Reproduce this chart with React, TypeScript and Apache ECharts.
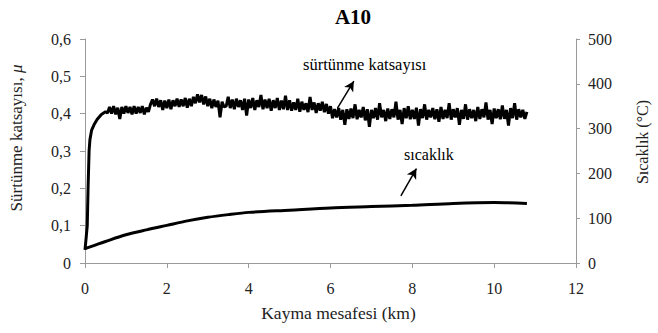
import React, { useEffect, useRef } from "react";
import * as echarts from "echarts";

const titleText = "A10";
const xTicks = { min: 0, max: 12, interval: 2 };
const leftTicks = { min: 0, max: 0.6, interval: 0.1 };
const rightTicks = { min: 0, max: 500, interval: 100 };

// friction coefficient: initial ramp
const rampDistance = [0, 0.03, 0.055, 0.075, 0.1, 0.12, 0.16, 0.22, 0.3, 0.4, 0.5];
const rampFriction = [0.035, 0.07, 0.1, 0.2, 0.3, 0.33, 0.355, 0.37, 0.385, 0.398, 0.405];

// friction coefficient: sampled every 0.05 km from 0.55 km
const noisyStart = 0.55;
const noisyStep = 0.05;
const frictionNoisy = [
  // 0.55 - 1.55
  0.402, 0.418, 0.4, 0.42, 0.398, 0.416, 0.386, 0.418, 0.4, 0.42, 0.402, 0.418, 0.398, 0.42, 0.4, 0.418, 0.402, 0.42, 0.398, 0.416, 0.405,
  // 1.60 - 3.40
  0.425, 0.438, 0.42, 0.44, 0.418, 0.436, 0.41, 0.435, 0.415, 0.438, 0.412, 0.436, 0.42, 0.44, 0.418, 0.438, 0.42, 0.442, 0.416, 0.44,
  0.42, 0.445, 0.428, 0.452, 0.43, 0.45, 0.425, 0.446, 0.42, 0.44, 0.415, 0.438, 0.418, 0.435, 0.39, 0.432, 0.418,
  // 3.45 - 6.00
  0.42, 0.445, 0.415, 0.438, 0.412, 0.44, 0.418, 0.436, 0.41, 0.44, 0.395, 0.438,
  0.415, 0.442, 0.41, 0.436, 0.418, 0.45, 0.412, 0.438, 0.415, 0.44, 0.408, 0.436, 0.415, 0.442, 0.41, 0.435, 0.412, 0.448, 0.41, 0.436,
  0.408, 0.43, 0.41, 0.44, 0.405, 0.432, 0.41, 0.428, 0.404, 0.445, 0.41, 0.43, 0.402, 0.428, 0.408, 0.432, 0.404, 0.426, 0.4, 0.42,
  // 6.05 - 10.80
  0.388, 0.412, 0.39, 0.415, 0.384, 0.41, 0.37, 0.412, 0.386, 0.414,
  0.388, 0.425, 0.385, 0.41, 0.39, 0.418, 0.382, 0.412, 0.365, 0.41,
  0.388, 0.415, 0.384, 0.428, 0.39, 0.41, 0.38, 0.414, 0.386, 0.412,
  0.39, 0.432, 0.384, 0.41, 0.372, 0.415, 0.388, 0.42, 0.385, 0.41,
  0.386, 0.416, 0.368, 0.412, 0.388, 0.425, 0.384, 0.41, 0.39, 0.415,
  0.385, 0.412, 0.378, 0.418, 0.386, 0.41, 0.388, 0.428, 0.384, 0.412,
  0.39, 0.415, 0.37, 0.41, 0.386, 0.425, 0.384, 0.412, 0.388, 0.41,
  0.38, 0.418, 0.386, 0.412, 0.39, 0.43, 0.384, 0.41, 0.372, 0.414,
  0.388, 0.412, 0.385, 0.422, 0.386, 0.41, 0.368, 0.415, 0.388, 0.428,
  0.384, 0.412, 0.39, 0.41, 0.386, 0.405,
];

// temperature (°C)
const tempDistance = [0, 0.25, 0.5, 1, 1.5, 2, 2.5, 3, 3.5, 4, 5, 6, 7, 8, 9, 10, 10.8];
const temperature = [32, 40, 48, 63, 74, 84, 94, 102, 108, 113, 118, 123, 126, 129, 133, 135, 133];

const labels = {
  xName: "Kayma mesafesi (km)",
  leftName: "Sürtünme katsayısı, ",
  leftSymbol: "μ",
  rightName: "Sıcaklık (°C)",
  frictionNote: "sürtünme katsayısı",
  tempNote: "sıcaklık",
};

// arrow annotations in data coordinates
const frictionArrow = [[6.17, 0.415], [6.57, 0.487]];
const tempArrow = [[7.72, 0.18], [8.1, 0.253]];

const FONT = "Liberation Serif";
const TXT = "#222";
const AXIS = "#9a9a9a";

export default function App() {
  const ref = useRef<HTMLDivElement>(null);
  useEffect(() => {
    if (!ref.current) return;
    const chart = echarts.init(ref.current, undefined, { renderer: "svg" });
    const frictionData: number[][] = [];
    rampDistance.forEach((d, i) => frictionData.push([d, rampFriction[i]]));
    frictionNoisy.forEach((v, i) =>
      frictionData.push([+(noisyStart + i * noisyStep).toFixed(2), v])
    );
    const tempData = tempDistance.map((d, i) => [d, temperature[i]]);

    chart.setOption({
      animation: false,
      backgroundColor: "#fff",
      textStyle: { fontFamily: FONT },
      title: {
        text: titleText,
        left: 348,
        top: 1,
        textAlign: "center",
        textStyle: { fontFamily: FONT, fontSize: 21, fontWeight: "bold", color: "#000" },
      },
      grid: { left: 85, right: 71, top: 39, bottom: 70 },
      xAxis: {
        type: "value",
        min: xTicks.min,
        max: xTicks.max,
        interval: xTicks.interval,
        name: labels.xName,
        nameLocation: "middle",
        nameGap: 41,
        nameTextStyle: { fontFamily: FONT, fontSize: 17.5, color: TXT, padding: [0, 0, 0, 16] },
        axisLine: { show: true, lineStyle: { color: AXIS, width: 1 } },
        axisTick: { show: true, length: 5, lineStyle: { color: AXIS } },
        axisLabel: { fontFamily: FONT, fontSize: 16, color: TXT, margin: 17 },
        splitLine: { show: false },
      },
      yAxis: [
        {
          type: "value",
          min: leftTicks.min,
          max: leftTicks.max,
          interval: leftTicks.interval,
          position: "left",
          name: labels.leftName + "{i|" + labels.leftSymbol + "}",
          nameLocation: "middle",
          nameRotate: 90,
          nameGap: 60,
          nameTextStyle: {
            fontFamily: FONT,
            fontSize: 17,
            color: TXT,
            padding: [0, 0, 0, 26],
            rich: { i: { fontFamily: FONT, fontSize: 17, fontStyle: "italic", color: TXT } },
          },
          axisLine: { show: true, lineStyle: { color: AXIS, width: 1 } },
          axisTick: { show: true, length: 5, lineStyle: { color: AXIS } },
          axisLabel: {
            fontFamily: FONT,
            fontSize: 16,
            color: TXT,
            margin: 14,
            formatter: (v: number) => (v === 0 ? "0" : v.toFixed(1).replace(".", ",")),
          },
          splitLine: { show: false },
        },
        {
          type: "value",
          min: rightTicks.min,
          max: rightTicks.max,
          interval: rightTicks.interval,
          position: "right",
          name: labels.rightName,
          nameLocation: "middle",
          nameRotate: 90,
          nameGap: 58,
          nameTextStyle: { fontFamily: FONT, fontSize: 16, color: TXT, padding: [0, 0, 0, 18] },
          axisLine: { show: true, lineStyle: { color: AXIS, width: 1 } },
          axisTick: { show: true, length: 4, lineStyle: { color: AXIS } },
          axisLabel: { fontFamily: FONT, fontSize: 16, color: TXT, margin: 12 },
          splitLine: { show: false },
        },
      ],
      series: [
        {
          type: "line",
          yAxisIndex: 0,
          data: frictionData,
          showSymbol: false,
          lineStyle: { color: "#000", width: 3 },
          itemStyle: { color: "#000" },
          markLine: {
            silent: true,
            symbol: ["none", "arrow"],
            symbolSize: [8, 10],
            label: { show: false },
            lineStyle: { color: "#000", width: 1.5, type: "solid" },
            data: [
              [{ coord: frictionArrow[0] }, { coord: frictionArrow[1] }],
            ],
          },
        },
        {
          type: "line",
          yAxisIndex: 1,
          data: tempData,
          showSymbol: false,
          smooth: 0.3,
          lineStyle: { color: "#000", width: 3 },
          itemStyle: { color: "#000" },
          markLine: {
            silent: true,
            symbol: ["none", "arrow"],
            symbolSize: [8, 10],
            label: { show: false },
            lineStyle: { color: "#000", width: 1.5, type: "solid" },
            data: [
              [
                { coord: [tempArrow[0][0], (tempArrow[0][1] * 500) / 0.6] },
                { coord: [tempArrow[1][0], (tempArrow[1][1] * 500) / 0.6] },
              ],
            ],
          },
        },
      ],
      graphic: [
        {
          type: "text",
          left: 303,
          top: 56,
          style: { text: labels.frictionNote, fontFamily: FONT, fontSize: 16.5, fill: "#000" },
        },
        {
          type: "text",
          left: 404,
          top: 146,
          style: { text: labels.tempNote, fontFamily: FONT, fontSize: 16, fill: "#000" },
        },
      ],
    });
    return () => chart.dispose();
  }, []);
  return (
    <div
      ref={ref}
      style={{ position: "fixed", left: 0, top: 0, width: 658, height: 333 }}
    />
  );
}
